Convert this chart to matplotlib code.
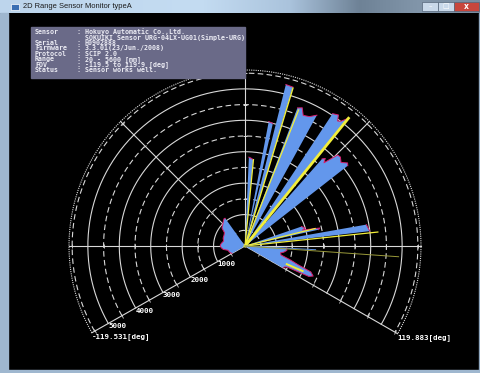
import numpy as np
import matplotlib
matplotlib.use("Agg")
import matplotlib.pyplot as plt
from matplotlib.patches import Rectangle
from matplotlib.markers import MarkerStyle
from matplotlib.transforms import Affine2D

W, H = 481, 373

# ---------------- data ----------------
title = "2D Range Sensor Monitor typeA"

info_keys = ["Sensor", "", "Serial", "Firmware", "Protocol", "Range", "FOV", "Status"]
info_vals = ["Hokuyo Automatic Co.,Ltd.",
             "SOKUIKI Sensor URG-04LX-UG01(Simple-URG)",
             "H0902888",
             "3.3.01(23/Jun./2008)",
             "SCIP 2.0",
             "20 - 5600 [mm]",
             "-119.5 to 119.9 [deg]",
             "Sensor works well."]

fov_min_deg = -119.531
fov_max_deg = 119.883
range_max_mm = 5600
ring_solid_mm = [1000, 2000, 3000, 4000, 5000]
ring_dash_mm = [500, 1500, 2500, 3500, 4500, 5500]
ring_label_mm = [1000, 2000, 3000, 4000, 5000]
spoke_deg = [-90, -45, 0, 45, 90]

# scan outline (angle clockwise from front, range in mm)
scan_deg = [-119.5, -119.5, -112, -104, -99, -94, -89, -84, -77, -70, -63, -57, -52, -46, -41, -37, -35.5, -35.5,
            2.5, 2.5, 4.0, 5.5, 5.5,
            10.8, 10.8, 12.8, 12.8,
            14.2, 14.2, 16.8, 16.8,
            20.8, 20.8, 22.5, 24.0, 26.5, 28.8, 28.8,
            33.5, 33.5, 35.5, 36.5, 37.5, 39.0, 39.0,
            41.5, 41.5, 42.5, 43.5, 45.5, 47.0, 49.0, 51.0, 52.0, 52.0,
            71.0, 71.0, 73.3, 74.5, 76.5, 77.5, 77.5,
            80.0, 80.0, 83.2, 83.2,
            92.5, 92.5, 96.0, 99.0, 101.0, 104.0, 107.0, 109.5, 111.5, 113.8, 115.5, 116.5, 118.0, 119.9, 119.9]
scan_mm = [0, 480, 530, 560, 700, 760, 790, 760, 700, 740, 750, 780, 930, 980, 1050, 1100, 1080, 0,
           0, 2830, 2800, 2760, 0,
           0, 4030, 4000, 0,
           0, 5300, 5280, 0,
           0, 4700, 4760, 4550, 4600, 4750, 0,
           0, 5050, 5120, 4950, 5000, 5230, 0,
           0, 3700, 3780, 3650, 4130, 4150, 4050, 4200, 4150, 0,
           0, 1900, 2000, 1900, 2450, 2400, 0,
           0, 3920, 4000, 0,
           0, 1330, 1340, 1250, 1150, 1180, 1500, 1800, 2250, 2370, 2250, 1500, 1420, 1400, 0]

# yellow echo rays (start / end range)
echo_deg = [5.6, 16.9, 21.5, 39.0, 76.0, 84.0, 113.5]
echo_start_mm = [0, 0, 0, 0, 0, 0, 1450]
echo_mm = [2760, 5250, 4650, 5230, 2300, 4250, 2000]
echo_width = [0.9, 1.0, 0.9, 2.0, 0.9, 0.9, 1.4]
# faint rays
faint_deg = [93.0, 94.0]
faint_mm = [2250, 4900]
faint_color = ["#5b8ee0", "#9a9a3a"]

# ---------------- figure ----------------
fig = plt.figure(figsize=(W / 100, H / 100), dpi=100, facecolor="black")

bg = fig.add_axes([0, 0, 1, 1])
bg.set_xlim(0, W)
bg.set_ylim(H, 0)
bg.axis("off")
bg.add_patch(Rectangle((0, 0), W, H, color="black", zorder=0))
# title bar gradient
grad_x = np.array([0, 200, 290, 360, 420, 481]) / W
grad_c = np.array([[189, 213, 236], [196, 220, 242], [170, 195, 220], [110, 130, 150], [130, 150, 170], [120, 140, 160]]) / 255
xs = np.linspace(0, 1, 300)
row = np.stack([np.interp(xs, grad_x, grad_c[:, k]) for k in range(3)], axis=-1)
bg.imshow(row[None, :, :], extent=[0, W, 13, 0], aspect="auto", zorder=1)
bg.add_patch(Rectangle((0, 13), 8, H - 13, color="#9fb7cf", zorder=1))
bg.add_patch(Rectangle((479, 13), 2, H - 13, color="#8fa7bf", zorder=1))
bg.add_patch(Rectangle((0, 370), W, 3, color="#9fb7cf", zorder=1))
# icon
bg.add_patch(Rectangle((11, 4), 8, 6, facecolor="#3b6fb3", edgecolor="white", lw=0.5, zorder=2))
bg.text(23, 7, title, fontsize=5.4, family="Liberation Sans", color="#1a1a1a", va="center", ha="left", zorder=3)
# window buttons
bg.add_patch(Rectangle((422, 2), 16, 9, facecolor="#c9d9ea", edgecolor="#55667a", lw=0.5, zorder=2))
bg.add_patch(Rectangle((438, 2), 16, 9, facecolor="#c9d9ea", edgecolor="#55667a", lw=0.5, zorder=2))
bg.add_patch(Rectangle((454, 2), 25, 9, facecolor="#c8463c", edgecolor="#55667a", lw=0.5, zorder=2))
bg.text(430, 6.5, "–", fontsize=5, color="white", ha="center", va="center", zorder=3)
bg.text(446, 6.5, "□", fontsize=5, color="white", ha="center", va="center", zorder=3)
bg.text(466.5, 6.5, "x", fontsize=5.5, color="white", ha="center", va="center", fontweight="bold", zorder=3)

# ---------------- polar scan axes ----------------
cx, cy = 245, 246
rlim = 5700
R = rlim * 176 / range_max_mm
ax = fig.add_axes([(cx - R) / W, (H - cy - R) / H, 2 * R / W, 2 * R / H], projection="polar")
ax.set_theta_zero_location("N")
ax.set_theta_direction(-1)
ax.set_ylim(0, rlim)
ax.set_axis_off()
ax.patch.set_visible(False)

grid_c = "#d9d9d9"
th = np.radians(np.linspace(fov_min_deg, fov_max_deg, 500))
for r in ring_solid_mm:
    ax.plot(th, np.full_like(th, r), color=grid_c, lw=0.8, zorder=1)
for r in ring_dash_mm:
    ax.plot(th, np.full_like(th, r), color=grid_c, lw=0.8, ls=(0, (5, 3)), zorder=1)
ax.plot(th, np.full_like(th, range_max_mm), color=grid_c, lw=0.8, ls=(0, (1, 1)), zorder=1)

for d in spoke_deg + [fov_min_deg, fov_max_deg]:
    t = np.radians(d)
    ax.plot([t, t], [0, range_max_mm], color=grid_c, lw=0.8, zorder=1)
    mk = MarkerStyle("_", transform=Affine2D().rotate_deg(-d))
    ax.plot(np.full(len(ring_dash_mm), t), ring_dash_mm, ls="none", marker=mk,
            ms=2.5, mew=0.6, color=grid_c, zorder=1)

# scan fill
sd = np.radians(scan_deg)
sm = np.array(scan_mm, dtype=float)
ax.fill(sd, sm, color="#6397ec", lw=0, zorder=3)

# red outline on the outer contour
runs = []
cur = []
for a, r in zip(sd, sm):
    if r > 0:
        cur.append((a, r))
    else:
        if len(cur) > 1:
            runs.append(cur)
        cur = []
if len(cur) > 1:
    runs.append(cur)
for run in runs:
    a, r = zip(*run)
    ax.plot(a, r, color="#d8206e", lw=0.7, zorder=4)

# yellow echoes
for d, r0, r, w in zip(echo_deg, echo_start_mm, echo_mm, echo_width):
    t = np.radians(d)
    ax.plot([t, t], [r0, r], color="#f2ee3a", lw=w, zorder=5)
for d, r, c in zip(faint_deg, faint_mm, faint_color):
    t = np.radians(d)
    ax.plot([t, t], [0, r], color=c, lw=0.7, zorder=5)

# range labels
lab_t = np.radians(fov_min_deg)
for r in ring_label_mm:
    ax.text(lab_t, r, f"{r}", color="white", fontsize=5.4, family="DejaVu Sans Mono",
            fontweight="bold", ha="left", va="top", zorder=6)
ax.text(lab_t, range_max_mm, f"{fov_min_deg:.3f}[deg]", color="white", fontsize=5.4,
        family="DejaVu Sans Mono", fontweight="bold", ha="left", va="top", zorder=6)
ax.text(np.radians(fov_max_deg), range_max_mm, f"{fov_max_deg:.3f}[deg]", color="white", fontsize=5.4,
        family="DejaVu Sans Mono", fontweight="bold", ha="left", va="top", zorder=6)

# ---------------- info box overlay ----------------
ov = fig.add_axes([0, 0, 1, 1])
ov.set_xlim(0, W)
ov.set_ylim(H, 0)
ov.axis("off")
ov.patch.set_visible(False)
ov.add_patch(Rectangle((31, 27), 214, 51, color="#6a6a88", zorder=1))
y0, dy = 31.7, 5.47
for i, (k, v) in enumerate(zip(info_keys, info_vals)):
    y = y0 + i * dy
    kw = dict(fontsize=4.8, family="DejaVu Sans Mono", fontweight="bold", color="#ececf4", va="center", zorder=2)
    if k:
        ov.text(35, y, k, ha="left", **kw)
        ov.text(77, y, ":", ha="left", **kw)
    ov.text(85, y, v, ha="left", **kw)

fig.savefig("out.png", dpi=100, facecolor="black")
